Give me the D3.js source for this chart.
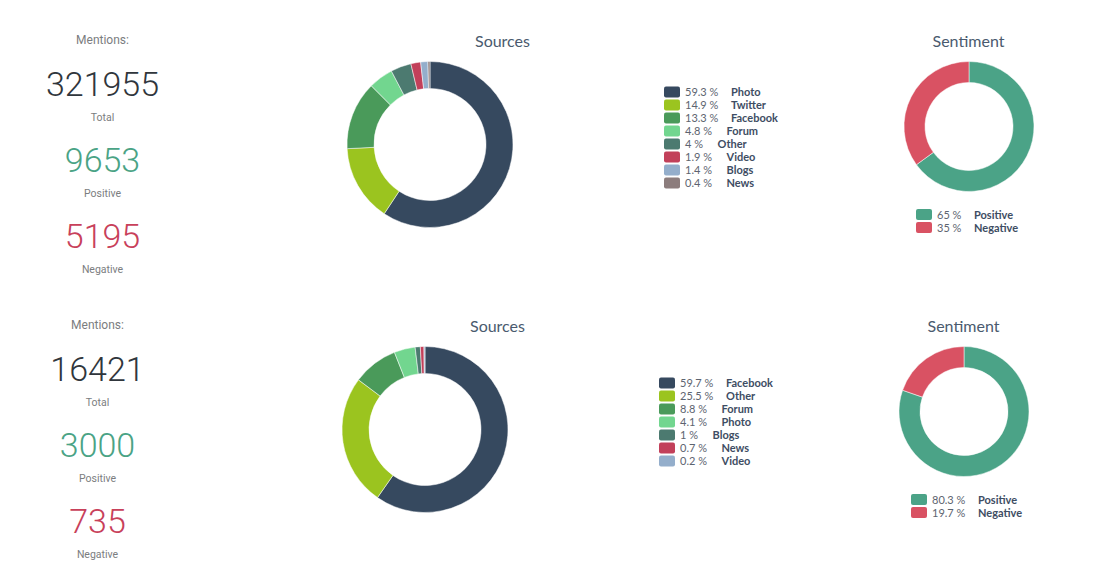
<!DOCTYPE html>
<html><head><meta charset="utf-8">
<script src="https://cdn.jsdelivr.net/npm/d3@7"></script>
<style>html,body{margin:0;padding:0;background:#fff;}svg{display:block;}</style>
</head><body>
<svg id="chart" width="1116" height="565"></svg>
<script>
// ---- data ----
const sourceLabels1 = ["Photo","Twitter","Facebook","Forum","Other","Video","Blogs","News"];
const sourceValues1 = [59.3,14.9,13.3,4.8,4,1.9,1.4,0.4];
const sourceLabels2 = ["Facebook","Other","Forum","Photo","Blogs","News","Video"];
const sourceValues2 = [59.7,25.5,8.8,4.1,1,0.7,0.2];
const sentimentLabels = ["Positive","Negative"];
const sentimentValues1 = [65,35];
const sentimentValues2 = [80.3,19.7];
const totals = [321955,16421];
const positives = [9653,3000];
const negatives = [5195,735];
const sourceColors = ["#36495f","#9bc41f","#4a9a5a","#72d68f","#4c7a70","#c2405a","#94aecb","#8c7d7d"];
const sentimentColors = ["#4ba387","#d95263"];

const panels = [
  {dy:0, dx:0, legY:92, labels:sourceLabels1, values:sourceValues1, sent:sentimentValues1, total:totals[0], pos:positives[0], neg:negatives[0]},
  {dy:285, dx:-5, legY:98, labels:sourceLabels2, values:sourceValues2, sent:sentimentValues2, total:totals[1], pos:positives[1], neg:negatives[1]}
];

const svg = d3.select("#chart");
const pie = d3.pie().sort(null).value(d=>d);
const srcArc = d3.arc().innerRadius(56).outerRadius(83);
const sentArc = d3.arc().innerRadius(44).outerRadius(65);
const lato = "Lato, 'Open Sans', sans-serif";
const roboto = "Roboto, sans-serif";

function legend(g, x, y, labels, values, colors){
  const rows = g.append("g").attr("transform",`translate(${x},${y})`)
    .selectAll("g").data(labels).join("g")
    .attr("transform",(d,i)=>`translate(0,${i*13})`);
  rows.append("rect").attr("x",0).attr("y",-5.5).attr("width",16).attr("height",11).attr("rx",2)
    .attr("fill",(d,i)=>colors[i]);
  rows.append("text").attr("x",21).attr("y",4).attr("font-family",lato).attr("font-size",11)
    .attr("fill","#5d6470").text((d,i)=>`${values[i]} %`);
  rows.append("text").attr("x",(d,i)=>21+19+4.5*`${values[i]} %`.length).attr("y",4)
    .attr("font-family",lato).attr("font-size",11).attr("font-weight",700)
    .attr("fill","#3e4d63").text(d=>d);
}

panels.forEach(p=>{
  const g = svg.append("g").attr("transform",`translate(${p.dx},${p.dy})`);
  // left stats
  const cx = 102.5;
  g.append("text").attr("x",cx).attr("y",44).attr("text-anchor","middle").attr("font-family",roboto)
    .attr("font-size",12).attr("fill","#7b7d80").text("Mentions:");
  g.append("text").attr("x",cx).attr("y",96).attr("text-anchor","middle").attr("font-family",roboto)
    .attr("font-weight",300).attr("font-size",34).attr("fill","#30363c").text(p.total);
  g.append("text").attr("x",cx).attr("y",121).attr("text-anchor","middle").attr("font-family",roboto)
    .attr("font-size",10.5).attr("fill","#7b7d80").text("Total");
  g.append("text").attr("x",cx).attr("y",172).attr("text-anchor","middle").attr("font-family",roboto)
    .attr("font-weight",300).attr("font-size",34).attr("fill","#4aa385").text(p.pos);
  g.append("text").attr("x",cx).attr("y",197).attr("text-anchor","middle").attr("font-family",roboto)
    .attr("font-size",10.5).attr("fill","#7b7d80").text("Positive");
  g.append("text").attr("x",cx).attr("y",248).attr("text-anchor","middle").attr("font-family",roboto)
    .attr("font-weight",300).attr("font-size",34).attr("fill","#c8405a").text(p.neg);
  g.append("text").attr("x",cx).attr("y",273).attr("text-anchor","middle").attr("font-family",roboto)
    .attr("font-size",10.5).attr("fill","#7b7d80").text("Negative");

  // sources
  g.append("text").attr("x",502.5).attr("y",47).attr("text-anchor","middle").attr("font-family",lato)
    .attr("font-size",16).attr("fill","#4a5a6e").text("Sources");
  g.append("g").attr("transform","translate(430,144.5)")
    .selectAll("path").data(pie(p.values)).join("path")
    .attr("d",srcArc).attr("fill",(d,i)=>sourceColors[i]).attr("stroke","#fff").attr("stroke-width",0.5);
  legend(g, 664, p.legY, p.labels, p.values, sourceColors);

  // sentiment
  g.append("text").attr("x",968.5).attr("y",47).attr("text-anchor","middle").attr("font-family",lato)
    .attr("font-size",16).attr("fill","#4a5a6e").text("Sentiment");
  g.append("g").attr("transform","translate(969,126.5)")
    .selectAll("path").data(pie(p.sent)).join("path")
    .attr("d",sentArc).attr("fill",(d,i)=>sentimentColors[i]).attr("stroke","#fff").attr("stroke-width",0.5);
  legend(g, 916, 214.5, sentimentLabels, p.sent, sentimentColors);
});
</script>
</body></html>
